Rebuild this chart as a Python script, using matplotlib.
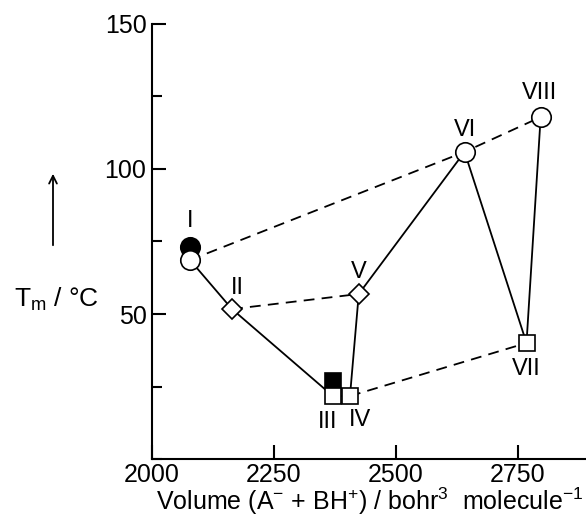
import matplotlib
matplotlib.use('Agg')
import matplotlib.pyplot as plt
from matplotlib.ticker import MultipleLocator

plt.rcParams['font.family'] = ['Liberation Sans', 'DejaVu Sans']
plt.rcParams['mathtext.fontset'] = 'custom'
plt.rcParams['mathtext.rm'] = 'Liberation Sans'
plt.rcParams['mathtext.default'] = 'regular'

# data
labels = ['I', 'II', 'III', 'IV', 'V', 'VI', 'VII', 'VIII']
volume = [2078, 2164, 2371, 2406, 2424, 2641, 2768, 2797]
tm = [68.6, 51.7, 21.7, 21.7, 56.9, 105.9, 40.0, 117.9]
markers = ['o', 'D', 's', 's', 'D', 'o', 's', 'o']

# filled symbols (second value for I and III)
filled_vol = [2078, 2371]
filled_tm = [73.1, 26.9]
filled_markers = ['o', 's']

# dashed groups (indices into the lists above)
dashed_groups = [[0, 5, 7], [1, 4], [3, 6]]

x_ticks = [2000, 2250, 2500, 2750]
y_ticks = [50, 100, 150]

# label offsets in points
label_offsets = [(0, 19), (4, 15), (-4, -19), (7, -17), (0, 16), (0, 16), (0, -19), (-1, 17)]

fig = plt.figure(figsize=(5.86, 5.23), dpi=100)
ax = fig.add_axes([152/586, 64/523, 1 - 152/586, (459-24)/523])

lw = 1.3
ax.plot(volume, tm, '-', color='black', lw=lw, zorder=1)
for g in dashed_groups:
    ax.plot([volume[i] for i in g], [tm[i] for i in g], '--', color='black',
            lw=lw, dashes=(6, 4), zorder=1)

msize = {'o': 14, 's': 12, 'D': 10}
for x, y, m in zip(filled_vol, filled_tm, filled_markers):
    ax.plot(x, y, marker=m, ms=msize[m], mfc='black', mec='black', mew=1.2,
            ls='none', zorder=2)
for x, y, m in zip(volume, tm, markers):
    ax.plot(x, y, marker=m, ms=msize[m], mfc='white', mec='black', mew=1.2,
            ls='none', zorder=3)

for i, lab in enumerate(labels):
    xx, yy = volume[i], tm[i]
    if lab == 'I':
        yy = filled_tm[0]
    ax.annotate(lab, (xx, yy), xytext=label_offsets[i], textcoords='offset points',
                ha='center', va='center', fontsize=17)

ax.set_xlim(2000, 2890)
ax.set_ylim(0, 150)
ax.set_xticks(x_ticks)
ax.set_yticks(y_ticks)
ax.yaxis.set_minor_locator(MultipleLocator(25))
ax.spines['top'].set_visible(False)
ax.spines['right'].set_visible(False)
for s in ['left', 'bottom']:
    ax.spines[s].set_linewidth(1.5)
ax.tick_params(axis='both', which='major', direction='in', length=10, width=1.5,
               labelsize=18, pad=4)
ax.tick_params(axis='y', which='minor', direction='in', length=7, width=1.5)
ax.tick_params(axis='x', which='major', pad=3)

fig.text(370/586, 6/523, r'Volume (A$^{-}$ + BH$^{+}$) / bohr$^{3}$  molecule$^{-1}$',
         ha='center', va='bottom', fontsize=18)
fig.text(14/586, 1 - 307/523, r'T$_{m}$ / °C', ha='left', va='baseline', fontsize=19)
fig.add_artist(matplotlib.patches.FancyArrowPatch((53/586, 1 - 248/523), (53/586, 1 - 171/523),
               transform=fig.transFigure, arrowstyle='->', mutation_scale=14,
               color='black', lw=1.3))

fig.savefig('out.png', dpi=100)
